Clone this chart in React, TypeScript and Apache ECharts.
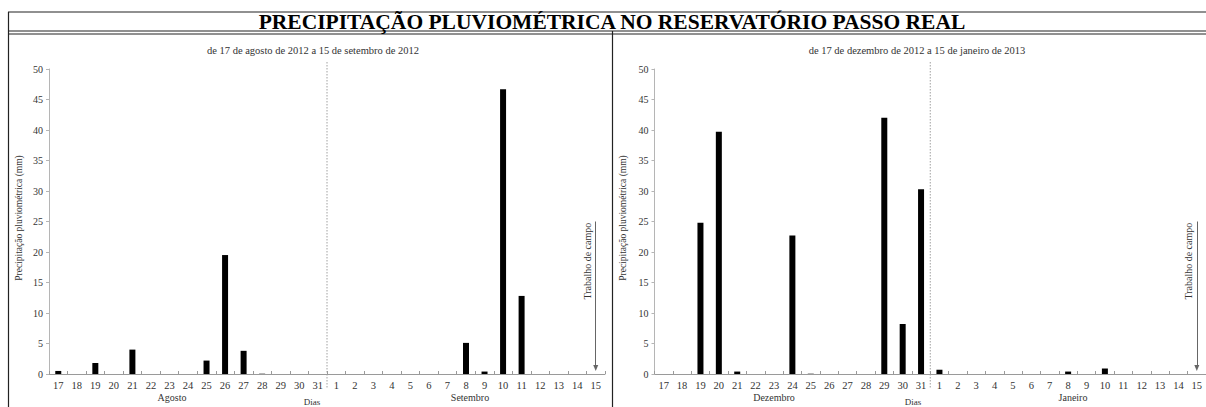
import React, { useEffect, useRef } from "react";
import * as echarts from "echarts";

// Days shown on each panel (two months per panel)
const augSepDays = [
  "17", "18", "19", "20", "21", "22", "23", "24", "25", "26", "27", "28", "29", "30", "31",
  "1", "2", "3", "4", "5", "6", "7", "8", "9", "10", "11", "12", "13", "14", "15",
];
const decJanDays = [
  "17", "18", "19", "20", "21", "22", "23", "24", "25", "26", "27", "28", "29", "30", "31",
  "1", "2", "3", "4", "5", "6", "7", "8", "9", "10", "11", "12", "13", "14", "15",
];

// Daily rainfall (mm)
const augSepRain = [
  0.5, 0, 1.8, 0, 4.0, 0, 0, 0, 2.2, 19.5, 3.8, 0.1, 0, 0, 0,
  0, 0, 0, 0, 0, 0, 0, 5.1, 0.4, 46.7, 12.8, 0, 0, 0, 0,
];
const decJanRain = [
  0, 0, 24.8, 39.7, 0.4, 0, 0, 22.7, 0.1, 0, 0, 0, 42.0, 8.2, 30.3,
  0.7, 0, 0, 0, 0, 0, 0, 0.4, 0, 0.9, 0, 0, 0, 0, 0,
];

// Field-work arrow spans these rainfall-axis values on the last day
const fieldWorkDay = "15";
const fieldWorkFrom = 25;
const fieldWorkTo = 1;
const fieldWorkLabelAt = 18.5;

const yTicks = { min: 0, max: 50, interval: 5 };

const FONT = "'Liberation Serif', 'Times New Roman', serif";
const TEXT = "#333";

function xAxisOf(days: string[], gridIndex: number) {
  return {
    type: "category" as const,
    gridIndex,
    data: days,
    axisLine: { lineStyle: { color: "#9a9a9a", width: 1 } },
    axisTick: { show: true, inside: true, length: 3, lineStyle: { color: "#9a9a9a" } },
    axisLabel: { interval: 0, fontFamily: FONT, fontSize: 10.5, color: TEXT, margin: 6 },
  };
}

function yAxisOf(gridIndex: number) {
  return {
    type: "value" as const,
    gridIndex,
    min: yTicks.min,
    max: yTicks.max,
    interval: yTicks.interval,
    axisLine: { show: true, lineStyle: { color: "#b5b5b5", width: 1 } },
    axisTick: { show: true, length: 3, lineStyle: { color: "#b5b5b5" } },
    axisLabel: { fontFamily: FONT, fontSize: 10, color: TEXT, margin: 6 },
    splitLine: { show: false },
  };
}

function barSeries(data: number[], idx: number, days: string[]) {
  const day = days.indexOf(fieldWorkDay, 15);
  return {
    type: "bar" as const,
    xAxisIndex: idx,
    yAxisIndex: idx,
    data: data.map((v) => ({ value: v, itemStyle: { color: v < 0.2 ? "#888" : "#000" } })),
    barWidth: 6,
    markLine: {
      silent: true,
      symbol: ["none", "triangle"],
      symbolSize: [5, 6],
      label: { show: false },
      lineStyle: { color: "#666", width: 1, type: "solid" },
      data: [[{ coord: [day, fieldWorkFrom] }, { coord: [day, fieldWorkTo] }]],
    },
  };
}

export default function App() {
  const ref = useRef<HTMLDivElement>(null);

  useEffect(() => {
    document.body.style.margin = "0";
    const el = ref.current!;
    const chart = echarts.init(el, undefined, { renderer: "svg" });

    chart.setOption({
      animation: false,
      backgroundColor: "#fff",
      grid: [
        { left: 49, top: 69, width: 556, height: 305 },
        { left: 654.5, top: 69, width: 553.5, height: 305 },
      ],
      xAxis: [xAxisOf(augSepDays, 0), xAxisOf(decJanDays, 1)],
      yAxis: [yAxisOf(0), yAxisOf(1)],
      series: [barSeries(augSepRain, 0, augSepDays), barSeries(decJanRain, 1, decJanDays)],
    });

    // Month divider positions, between the 31st and the 1st
    const midX = (axis: number) => {
      const a = chart.convertToPixel({ xAxisIndex: axis }, 14) as number;
      const b = chart.convertToPixel({ xAxisIndex: axis }, 15) as number;
      return (a + b) / 2;
    };
    const arrowX = (axis: number) => chart.convertToPixel({ xAxisIndex: axis }, 29) as number;
    const labelY = (axis: number) =>
      chart.convertToPixel({ yAxisIndex: axis }, fieldWorkLabelAt) as number;

    const dividers = [0, 1].map((i) => ({
      type: "line",
      shape: { x1: midX(i), y1: 62, x2: midX(i), y2: 388 },
      style: { stroke: "#888", lineWidth: 0.8, lineDash: [1.5, 1.5] },
    }));

    const fieldWorkLabels = [0, 1].map((i) => ({
      type: "text",
      x: arrowX(i) - 8,
      y: labelY(i),
      rotation: Math.PI / 2,
      style: {
        text: "Trabalho de campo",
        font: `10px ${FONT}`,
        fill: TEXT,
        align: "center",
        verticalAlign: "middle",
      },
    }));

    const txt = (x: number, y: number, text: string, font: string, extra: any = {}) => ({
      type: "text",
      x,
      y,
      ...extra,
      style: { text, font, fill: extra.fill || TEXT, align: "center", verticalAlign: "middle" },
    });

    const frameLine = (x1: number, y1: number, x2: number, y2: number, w = 1.2) => ({
      type: "line",
      shape: { x1, y1, x2, y2 },
      style: { stroke: "#222", lineWidth: w },
    });

    chart.setOption({
      graphic: [
        frameLine(8, 12, 1206, 12),
        frameLine(8, 31, 1206, 31),
        frameLine(8, 34, 1206, 34),
        frameLine(8.5, 12, 8.5, 407),
        frameLine(612.5, 31, 612.5, 407),
        txt(612, 22, "PRECIPITAÇÃO PLUVIOMÉTRICA NO RESERVATÓRIO PASSO REAL", `bold 21.5px ${FONT}`, { fill: "#000" }),
        txt(313, 50, "de 17 de agosto de 2012 a 15 de setembro de 2012", `10.5px ${FONT}`),
        txt(917, 50, "de 17 de dezembro de 2012 a 15 de janeiro de 2013", `10.5px ${FONT}`),
        txt(19, 218, "Precipitação pluviométrica (mm)", `9.5px ${FONT}`, { rotation: Math.PI / 2 }),
        txt(623, 218, "Precipitação pluviométrica (mm)", `9.5px ${FONT}`, { rotation: Math.PI / 2 }),
        txt(172, 397, "Agosto", `10px ${FONT}`),
        txt(470, 397, "Setembro", `10px ${FONT}`),
        txt(774, 397, "Dezembro", `10px ${FONT}`),
        txt(1073, 397, "Janeiro", `10px ${FONT}`),
        txt(312, 402, "Dias", `9px ${FONT}`),
        txt(913, 402, "Dias", `9px ${FONT}`),
        ...dividers,
        ...fieldWorkLabels,
      ],
    });

    return () => chart.dispose();
  }, []);

  return <div ref={ref} style={{ width: 1206, height: 407 }} />;
}
